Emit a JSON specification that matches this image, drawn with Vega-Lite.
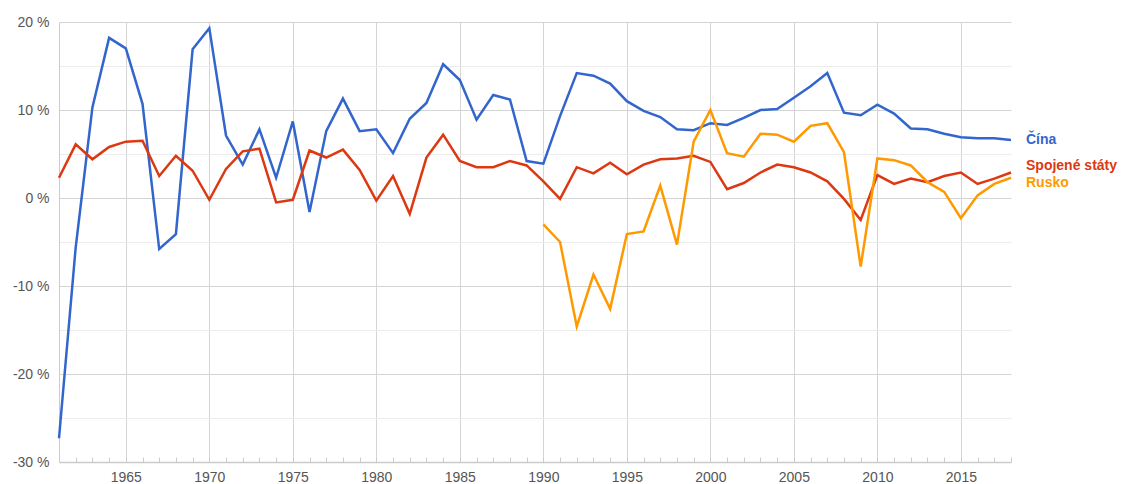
{
  "$schema": "https://vega.github.io/schema/vega-lite/v6.json",
  "width": 952,
  "height": 440,
  "autosize": {"type": "none"},
  "padding": {"left": 59, "top": 22, "right": 112, "bottom": 22},
  "config": {
    "view": {"stroke": null},
    "font": "Liberation Sans",
    "axis": {"labelFont": "Liberation Sans", "labelFontSize": 14, "labelColor": "#555555", "title": null, "domainColor": "#cccccc", "tickColor": "#cccccc"}
  },
  "datasets": {
    "gdp": [
      {"year":1961,"country":"Čína","value":-27.3},{"year":1962,"country":"Čína","value":-5.6},{"year":1963,"country":"Čína","value":10.3},{"year":1964,"country":"Čína","value":18.2},{"year":1965,"country":"Čína","value":17.0},{"year":1966,"country":"Čína","value":10.7},{"year":1967,"country":"Čína","value":-5.8},{"year":1968,"country":"Čína","value":-4.1},{"year":1969,"country":"Čína","value":16.9},{"year":1970,"country":"Čína","value":19.3},
      {"year":1971,"country":"Čína","value":7.1},{"year":1972,"country":"Čína","value":3.8},{"year":1973,"country":"Čína","value":7.8},{"year":1974,"country":"Čína","value":2.3},{"year":1975,"country":"Čína","value":8.7},{"year":1976,"country":"Čína","value":-1.6},{"year":1977,"country":"Čína","value":7.6},{"year":1978,"country":"Čína","value":11.3},{"year":1979,"country":"Čína","value":7.6},{"year":1980,"country":"Čína","value":7.8},
      {"year":1981,"country":"Čína","value":5.1},{"year":1982,"country":"Čína","value":9.0},{"year":1983,"country":"Čína","value":10.8},{"year":1984,"country":"Čína","value":15.2},{"year":1985,"country":"Čína","value":13.4},{"year":1986,"country":"Čína","value":8.9},{"year":1987,"country":"Čína","value":11.7},{"year":1988,"country":"Čína","value":11.2},{"year":1989,"country":"Čína","value":4.2},{"year":1990,"country":"Čína","value":3.9},
      {"year":1991,"country":"Čína","value":9.3},{"year":1992,"country":"Čína","value":14.2},{"year":1993,"country":"Čína","value":13.9},{"year":1994,"country":"Čína","value":13.0},{"year":1995,"country":"Čína","value":11.0},{"year":1996,"country":"Čína","value":9.9},{"year":1997,"country":"Čína","value":9.2},{"year":1998,"country":"Čína","value":7.8},{"year":1999,"country":"Čína","value":7.7},{"year":2000,"country":"Čína","value":8.5},
      {"year":2001,"country":"Čína","value":8.3},{"year":2002,"country":"Čína","value":9.1},{"year":2003,"country":"Čína","value":10.0},{"year":2004,"country":"Čína","value":10.1},{"year":2005,"country":"Čína","value":11.4},{"year":2006,"country":"Čína","value":12.7},{"year":2007,"country":"Čína","value":14.2},{"year":2008,"country":"Čína","value":9.7},{"year":2009,"country":"Čína","value":9.4},{"year":2010,"country":"Čína","value":10.6},
      {"year":2011,"country":"Čína","value":9.6},{"year":2012,"country":"Čína","value":7.9},{"year":2013,"country":"Čína","value":7.8},{"year":2014,"country":"Čína","value":7.3},{"year":2015,"country":"Čína","value":6.9},{"year":2016,"country":"Čína","value":6.8},{"year":2017,"country":"Čína","value":6.8},{"year":2018,"country":"Čína","value":6.6},
      {"year":1961,"country":"Spojené státy","value":2.3},{"year":1962,"country":"Spojené státy","value":6.1},{"year":1963,"country":"Spojené státy","value":4.4},{"year":1964,"country":"Spojené státy","value":5.8},{"year":1965,"country":"Spojené státy","value":6.4},{"year":1966,"country":"Spojené státy","value":6.5},{"year":1967,"country":"Spojené státy","value":2.5},{"year":1968,"country":"Spojené státy","value":4.8},{"year":1969,"country":"Spojené státy","value":3.1},{"year":1970,"country":"Spojené státy","value":-0.2},
      {"year":1971,"country":"Spojené státy","value":3.3},{"year":1972,"country":"Spojené státy","value":5.3},{"year":1973,"country":"Spojené státy","value":5.6},{"year":1974,"country":"Spojené státy","value":-0.5},{"year":1975,"country":"Spojené státy","value":-0.2},{"year":1976,"country":"Spojené státy","value":5.4},{"year":1977,"country":"Spojené státy","value":4.6},{"year":1978,"country":"Spojené státy","value":5.5},{"year":1979,"country":"Spojené státy","value":3.2},{"year":1980,"country":"Spojené státy","value":-0.3},
      {"year":1981,"country":"Spojené státy","value":2.5},{"year":1982,"country":"Spojené státy","value":-1.8},{"year":1983,"country":"Spojené státy","value":4.6},{"year":1984,"country":"Spojené státy","value":7.2},{"year":1985,"country":"Spojené státy","value":4.2},{"year":1986,"country":"Spojené státy","value":3.5},{"year":1987,"country":"Spojené státy","value":3.5},{"year":1988,"country":"Spojené státy","value":4.2},{"year":1989,"country":"Spojené státy","value":3.7},{"year":1990,"country":"Spojené státy","value":1.9},
      {"year":1991,"country":"Spojené státy","value":-0.1},{"year":1992,"country":"Spojené státy","value":3.5},{"year":1993,"country":"Spojené státy","value":2.8},{"year":1994,"country":"Spojené státy","value":4.0},{"year":1995,"country":"Spojené státy","value":2.7},{"year":1996,"country":"Spojené státy","value":3.8},{"year":1997,"country":"Spojené státy","value":4.4},{"year":1998,"country":"Spojené státy","value":4.5},{"year":1999,"country":"Spojené státy","value":4.8},{"year":2000,"country":"Spojené státy","value":4.1},
      {"year":2001,"country":"Spojené státy","value":1.0},{"year":2002,"country":"Spojené státy","value":1.7},{"year":2003,"country":"Spojené státy","value":2.9},{"year":2004,"country":"Spojené státy","value":3.8},{"year":2005,"country":"Spojené státy","value":3.5},{"year":2006,"country":"Spojené státy","value":2.9},{"year":2007,"country":"Spojené státy","value":1.9},{"year":2008,"country":"Spojené státy","value":-0.1},{"year":2009,"country":"Spojené státy","value":-2.5},{"year":2010,"country":"Spojené státy","value":2.6},
      {"year":2011,"country":"Spojené státy","value":1.6},{"year":2012,"country":"Spojené státy","value":2.2},{"year":2013,"country":"Spojené státy","value":1.8},{"year":2014,"country":"Spojené státy","value":2.5},{"year":2015,"country":"Spojené státy","value":2.9},{"year":2016,"country":"Spojené státy","value":1.6},{"year":2017,"country":"Spojené státy","value":2.2},{"year":2018,"country":"Spojené státy","value":2.9},
      {"year":1990,"country":"Rusko","value":-3.0},{"year":1991,"country":"Rusko","value":-5.0},{"year":1992,"country":"Rusko","value":-14.6},{"year":1993,"country":"Rusko","value":-8.7},{"year":1994,"country":"Rusko","value":-12.6},{"year":1995,"country":"Rusko","value":-4.1},{"year":1996,"country":"Rusko","value":-3.8},{"year":1997,"country":"Rusko","value":1.4},{"year":1998,"country":"Rusko","value":-5.3},{"year":1999,"country":"Rusko","value":6.4},{"year":2000,"country":"Rusko","value":10.0},
      {"year":2001,"country":"Rusko","value":5.1},{"year":2002,"country":"Rusko","value":4.7},{"year":2003,"country":"Rusko","value":7.3},{"year":2004,"country":"Rusko","value":7.2},{"year":2005,"country":"Rusko","value":6.4},{"year":2006,"country":"Rusko","value":8.2},{"year":2007,"country":"Rusko","value":8.5},{"year":2008,"country":"Rusko","value":5.2},{"year":2009,"country":"Rusko","value":-7.8},{"year":2010,"country":"Rusko","value":4.5},
      {"year":2011,"country":"Rusko","value":4.3},{"year":2012,"country":"Rusko","value":3.7},{"year":2013,"country":"Rusko","value":1.8},{"year":2014,"country":"Rusko","value":0.7},{"year":2015,"country":"Rusko","value":-2.3},{"year":2016,"country":"Rusko","value":0.3},{"year":2017,"country":"Rusko","value":1.6},{"year":2018,"country":"Rusko","value":2.3}
    ]
  },
  "data": {"name": "gdp"},
  "encoding": {
    "x": {
      "field": "year", "type": "quantitative",
      "scale": {"domain": [1961, 2018], "nice": false, "zero": false},
      "axis": {
        "values": [1961,1962,1963,1964,1965,1966,1967,1968,1969,1970,1971,1972,1973,1974,1975,1976,1977,1978,1979,1980,1981,1982,1983,1984,1985,1986,1987,1988,1989,1990,1991,1992,1993,1994,1995,1996,1997,1998,1999,2000,2001,2002,2003,2004,2005,2006,2007,2008,2009,2010,2011,2012,2013,2014,2015,2016,2017,2018],
        "labelExpr": "datum.value % 5 === 0 ? format(datum.value, 'd') : ''",
        "labelOverlap": false,
        "labelFlush": false,
        "labelPadding": 13,
        "tickSize": -5,
        "grid": true,
        "gridColor": "#d4d4d4",
        "gridOpacity": {"condition": {"test": "datum.value % 5 === 0", "value": 1}, "value": 0},
        "domainWidth": 1.5
      }
    },
    "y": {
      "field": "value", "type": "quantitative",
      "scale": {"domain": [-30, 20], "nice": false, "zero": false},
      "axis": {
        "values": [-30,-25,-20,-15,-10,-5,0,5,10,15,20],
        "labelExpr": "datum.value % 10 === 0 ? datum.value + ' %' : ''",
        "labelOverlap": false,
        "labelFlush": false,
        "ticks": false,
        "labelPadding": 10,
        "grid": true,
        "gridColor": {"condition": {"test": "datum.value % 10 === 0", "value": "#d4d4d4"}, "value": "#ececec"}
      }
    },
    "color": {
      "field": "country", "type": "nominal",
      "scale": {"domain": ["Čína", "Spojené státy", "Rusko"], "range": ["#3366cc", "#dc3912", "#ff9900"]},
      "legend": null
    }
  },
  "layer": [
    {"transform": [{"filter": "datum.country === 'Čína'"}], "mark": {"type": "line", "strokeWidth": 2.5}},
    {"transform": [{"filter": "datum.country === 'Spojené státy'"}], "mark": {"type": "line", "strokeWidth": 2.5}},
    {"transform": [{"filter": "datum.country === 'Rusko'"}], "mark": {"type": "line", "strokeWidth": 2.5}},
    {"transform": [{"filter": "datum.year === 2018 && datum.country === 'Čína'"}], "mark": {"type": "text", "align": "left", "baseline": "middle", "dx": 15, "dy": 0, "fontWeight": "bold", "fontSize": 14}, "encoding": {"text": {"field": "country"}}},
    {"transform": [{"filter": "datum.year === 2018 && datum.country === 'Spojené státy'"}], "mark": {"type": "text", "align": "left", "baseline": "middle", "dx": 15, "dy": -6, "fontWeight": "bold", "fontSize": 14}, "encoding": {"text": {"field": "country"}}},
    {"transform": [{"filter": "datum.year === 2018 && datum.country === 'Rusko'"}], "mark": {"type": "text", "align": "left", "baseline": "middle", "dx": 15, "dy": 5, "fontWeight": "bold", "fontSize": 14}, "encoding": {"text": {"field": "country"}}}
  ]
}
